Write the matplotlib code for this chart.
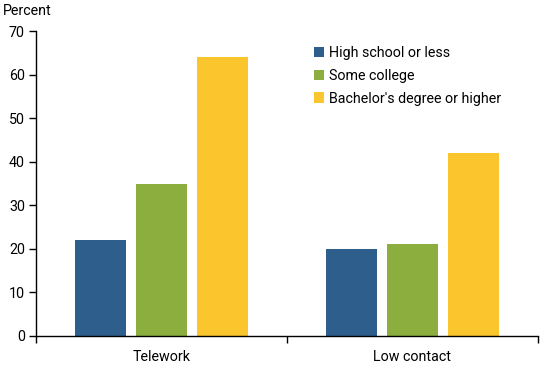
import matplotlib
matplotlib.use("Agg")
import matplotlib.pyplot as plt
import numpy as np

plt.rcParams['font.family'] = ['Roboto', 'DejaVu Sans']

categories = ["Telework", "Low contact"]
series_names = ["High school or less", "Some college", "Bachelor's degree or higher"]
values = {
    "High school or less": [22, 20],
    "Some college": [35, 21],
    "Bachelor's degree or higher": [64, 42],
}
colors = ["#2E5E8C", "#8BAE3F", "#FBC52D"]
yticks = [0, 10, 20, 30, 40, 50, 60, 70]

fs = 10.3

fig = plt.figure(figsize=(5.5, 3.65), dpi=100)
ax = fig.add_axes([0.0655, 0.0795, 0.9125, 0.8355])

x = np.arange(len(categories))
width = 0.203
step = 0.243
for i, name in enumerate(series_names):
    ax.bar(x + (i - 1) * step, values[name], width=width, color=colors[i], label=name)

ax.set_xlim(-0.5, 1.5)
ax.set_ylim(0, 70)
ax.set_yticks(yticks)
ax.set_xticks([-0.5, 0.5, 1.5], minor=False)
ax.set_xticklabels([])
ax.set_xticks(x, minor=True)
ax.set_xticklabels(categories, minor=True)
ax.tick_params(axis='x', which='minor', length=0, pad=10, labelsize=fs)
ax.tick_params(axis='x', which='major', length=5, direction='out', width=1)
ax.tick_params(axis='y', length=5, direction='out', width=1, labelsize=fs, pad=3)
for s in ['top', 'right']:
    ax.spines[s].set_visible(False)
for s in ['left', 'bottom']:
    ax.spines[s].set_linewidth(1)
    ax.spines[s].set_color('black')

fig.text(0.005, 0.952, "Percent", fontsize=fs, ha='left', va='bottom')

leg = ax.legend(loc='upper left', bbox_to_anchor=(0.542, 0.97), frameon=False,
                fontsize=fs, handlelength=0.75, handleheight=0.75, handletextpad=0.35,
                labelspacing=0.62, borderaxespad=0)

fig.savefig("out.png", dpi=100)
